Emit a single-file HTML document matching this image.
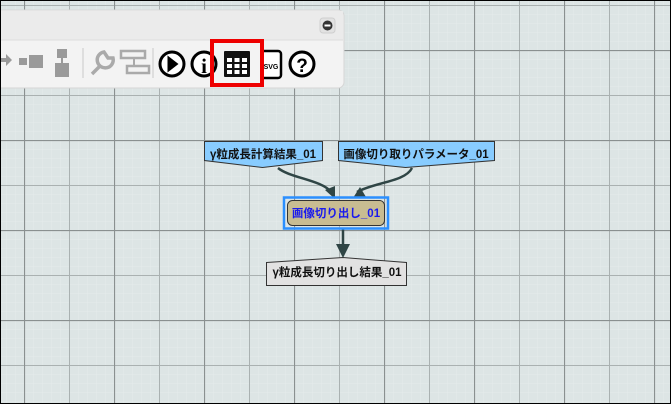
<!DOCTYPE html>
<html><head><meta charset="utf-8"><style>
html,body{margin:0;padding:0;}
body{width:671px;height:404px;overflow:hidden;position:relative;font-family:"Liberation Sans","Noto Sans CJK JP",sans-serif;}
</style></head><body>
<svg width="671" height="404" viewBox="0 0 671 404" xmlns="http://www.w3.org/2000/svg" style="position:absolute;left:0;top:0">
<defs>
<pattern id="minor" x="6" y="5" width="9" height="9" patternUnits="userSpaceOnUse">
<path d="M0 0H9M0 0V9" stroke="#e5ebeb" stroke-width="1" fill="none"/>
</pattern>
<pattern id="mid" x="24" y="5" width="45" height="45" patternUnits="userSpaceOnUse">
<path d="M0.5 0V45M0 0.5H45" stroke="#aab1b1" stroke-width="1" fill="none"/>
</pattern>
<pattern id="major" x="24" y="50" width="90" height="90" patternUnits="userSpaceOnUse">
<path d="M0.5 0V90M0 0.5H90" stroke="#8a9090" stroke-width="1.2" fill="none"/>
</pattern>
</defs>
<rect width="671" height="404" fill="#dde5e5"/>
<rect width="671" height="404" fill="url(#minor)"/>
<rect width="671" height="404" fill="url(#mid)"/>
<rect width="671" height="404" fill="url(#major)"/>

<!-- toolbar -->
<path d="M0 10H338a6 6 0 0 1 6 6V82a6 6 0 0 1-6 6H0Z" fill="#f3f3f3" stroke="#d6d6d6"/>
<rect x="0" y="11" width="343" height="29" fill="#ebebeb"/>
<line x1="0" y1="40" x2="343" y2="40" stroke="#dcdcdc"/>
<rect x="320" y="18" width="15" height="15" rx="3" fill="#e2e2e2" stroke="#cfcfcf"/>
<circle cx="327.5" cy="25.5" r="5" fill="#333"/><rect x="324.5" y="24.5" width="6" height="2" fill="#fff"/>
<!-- gray icons -->
<path d="M0 58h6v-4l6 6-6 6v-4H0z" fill="#9a9a9a"/>
<rect x="19" y="58" width="8" height="7" fill="#9a9a9a"/><rect x="29" y="55" width="14" height="13" fill="#9a9a9a"/>
<rect x="57" y="49" width="10" height="9" fill="#9a9a9a"/><rect x="55" y="63" width="14" height="14" fill="#9a9a9a"/><rect x="61" y="58" width="2" height="5" fill="#9a9a9a"/>
<line x1="83" y1="48" x2="83" y2="78" stroke="#c8c8c8"/>
<path d="M92 74l8-8M104 52a8 8 0 1 0 9 6l-5 0-2-3z" stroke="#aaa" stroke-width="3.5" fill="none"/>
<rect x="121" y="51" width="24" height="7" fill="none" stroke="#aaa" stroke-width="2.5"/>
<rect x="127" y="66" width="22" height="7" fill="none" stroke="#aaa" stroke-width="2.5"/>
<path d="M134 58v7" stroke="#aaa" stroke-width="2"/>
<line x1="153" y1="48" x2="153" y2="78" stroke="#c8c8c8"/>
<circle cx="172" cy="64" r="12" fill="#fff" stroke="#000" stroke-width="3"/><path d="M167.5 55.5l11 8.5-11 8.5z" fill="#000"/>
<circle cx="204" cy="64" r="12" fill="#fff" stroke="#000" stroke-width="3"/>
<text x="204" y="73" font-size="21" font-weight="bold" text-anchor="middle" font-family="Liberation Serif,serif">i</text>
<rect x="212" y="41" width="50" height="44" fill="none" stroke="#e00" stroke-width="4"/>
<rect x="224" y="51" width="26" height="26" fill="#111" rx="1"/>
<g fill="#fff"><rect x="227" y="58" width="5" height="4"/><rect x="234.5" y="58" width="5" height="4"/><rect x="242" y="58" width="5" height="4"/>
<rect x="227" y="64" width="5" height="4"/><rect x="234.5" y="64" width="5" height="4"/><rect x="242" y="64" width="5" height="4"/>
<rect x="227" y="70" width="5" height="4"/><rect x="234.5" y="70" width="5" height="4"/><rect x="242" y="70" width="5" height="4"/></g>
<path d="M264 51h14a3 3 0 0 1 3 3v21a3 3 0 0 1-3 3h-14" fill="#fff" stroke="#000" stroke-width="2.5"/>
<text x="271" y="69" font-size="7" font-weight="bold" text-anchor="middle">SVG</text>
<circle cx="302" cy="64" r="12" fill="#fff" stroke="#000" stroke-width="3"/>
<text x="302" y="72" font-size="19" font-weight="bold" text-anchor="middle">?</text>

<!-- connectors -->
<path d="M278 168C290 178 322 180 331 192" stroke="#2f4545" stroke-width="2.5" fill="none"/>
<path d="M325 190l10 9 0-13z" fill="#2f4545"/>
<path d="M412 168C405 182 375 182 357 192" stroke="#2f4545" stroke-width="2.5" fill="none"/>
<path d="M353 198l13-1-6-10z" fill="#2f4545"/>
<path d="M343 229V249" stroke="#2f4545" stroke-width="2.5"/>
<path d="M336 244l7 14 7-14z" fill="#2f4545"/>

<!-- nodes -->
<path d="M204.5 141.5H322.5V160.5L262.5 167.5L204.5 160.5Z" fill="#88ccff" stroke="#333" stroke-width="1"/>
<text x="263" y="158" font-size="11.5" font-weight="bold" text-anchor="middle" fill="#111">γ粒成長計算結果_01</text>
<path d="M338.5 141.5H494.5V160.5L405.5 167.5L338.5 160.5Z" fill="#88ccff" stroke="#333" stroke-width="1"/>
<text x="416" y="158" font-size="11.5" font-weight="bold" text-anchor="middle" fill="#111">画像切り取りパラメータ_01</text>
<rect x="284" y="197.5" width="104" height="31" fill="none" stroke="#2b8fff" stroke-width="2.5"/>
<rect x="287.5" y="200.5" width="97" height="25" rx="5" fill="#c8bc92" stroke="#333"/>
<text x="336" y="217" font-size="11.5" font-weight="bold" text-anchor="middle" fill="#1a1aee">画像切り出し_01</text>
<path d="M266.5 262.5L343 257.5L406.5 262.5V285.5H266.5Z" fill="#e2e2e2" stroke="#333" stroke-width="1"/>
<text x="337" y="276" font-size="11.5" font-weight="bold" text-anchor="middle" fill="#111">γ粒成長切り出し結果_01</text>

<rect x="0.5" y="0.5" width="670" height="403" fill="none" stroke="#000" stroke-width="1"/>
</svg>
</body></html>
